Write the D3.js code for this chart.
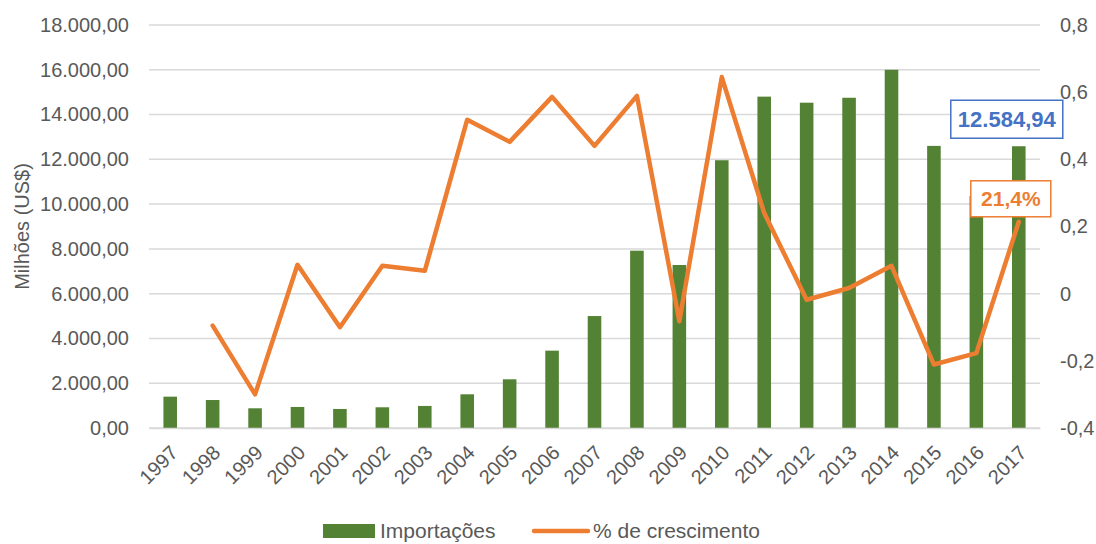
<!DOCTYPE html>
<html>
<head>
<meta charset="utf-8">
<script src="https://cdn.jsdelivr.net/npm/d3@7"></script>
<style>
  body { margin: 0; background: #fff; }
  svg text { font-family: "Liberation Sans", Arial, sans-serif; fill: #595959; }
</style>
</head>
<body>
<div id="chart"></div>
<script>
const years = ['1997', '1998', '1999', '2000', '2001', '2002', '2003', '2004', '2005', '2006', '2007',
  '2008', '2009', '2010', '2011', '2012', '2013', '2014', '2015', '2016', '2017'];
const imports = [1400, 1250, 880, 940, 850, 925, 985, 1505, 2175, 3455, 5000,
  7920, 7280, 11960, 14800, 14530, 14750, 16000, 12600, 10365, 12584.94];
// growth starts in 1998
const growth = [-0.095, -0.30, 0.086, -0.10, 0.083, 0.068, 0.518, 0.452, 0.586, 0.44,
  0.589, -0.082, 0.645, 0.24, -0.018, 0.017, 0.083, -0.211, -0.177, 0.214];
const leftTicks = d3.range(0, 18001, 2000);
const rightTicks = [-0.4, -0.2, 0, 0.2, 0.4, 0.6, 0.8];
const seriesNames = ['Importações', '% de crescimento'];
const lastImportLabel = '12.584,94';
const lastGrowthLabel = '21,4%';

const width = 1096;
const height = 544;
const plotLeft = 149, plotRight = 1040, plotTop = 25, plotBottom = 428;

const green = '#548235';
const orange = '#ED7D31';
const blue = '#4472C4';

let svg = d3.select('#chart')
  .append('svg')
  .attr('width', width)
  .attr('height', height);

let x = d3.scaleBand().domain(years).range([plotLeft, plotRight]).paddingInner(0.68).paddingOuter(0.34);
let yL = d3.scaleLinear().domain([0, 18000]).range([plotBottom, plotTop]);
let yR = d3.scaleLinear().domain([-0.4, 0.8]).range([plotBottom, plotTop]);

let fmtL = v => d3.format(',.2f')(v).replace(/,/g, 'X').replace('.', ',').replace(/X/g, '.');
let fmtR = v => v === 0 ? '0' : String(d3.format('.1f')(v)).replace('.', ',').replace('−', '-');

// Gridlines
svg.append('g')
  .selectAll('line')
  .data(leftTicks)
  .enter()
  .append('line')
    .attr('x1', plotLeft)
    .attr('x2', plotRight)
    .attr('y1', d => yL(d))
    .attr('y2', d => yL(d))
    .attr('stroke', '#d9d9d9')
    .attr('stroke-width', 1.5);

// Left axis
let yAxisL = d3.axisLeft(yL)
  .tickValues(leftTicks)
  .tickSize(0)
  .tickPadding(20)
  .tickFormat(fmtL);

svg.append('g')
  .attr('transform', `translate(${plotLeft},0)`)
  .call(yAxisL)
  .call(g => g.select('.domain').remove())
  .selectAll('text')
    .style('font-size', '20px')
    .attr('fill', '#595959');

// Right axis
let yAxisR = d3.axisRight(yR)
  .tickValues(rightTicks)
  .tickSize(0)
  .tickPadding(20)
  .tickFormat(fmtR);

svg.append('g')
  .attr('transform', `translate(${plotRight},0)`)
  .call(yAxisR)
  .call(g => g.select('.domain').remove())
  .selectAll('text')
    .style('font-size', '20px')
    .attr('fill', '#595959');

// Axis title
svg.append('text')
  .attr('transform', `translate(29,${(plotTop + plotBottom) / 2}) rotate(-90)`)
  .attr('text-anchor', 'middle')
  .style('font-size', '20px')
  .text('Milhões (US$)');

// Bars
svg.append('g')
  .selectAll('rect')
  .data(imports)
  .enter()
  .append('rect')
    .attr('x', (d, i) => x(years[i]))
    .attr('y', d => yL(d))
    .attr('width', x.bandwidth())
    .attr('height', d => plotBottom - yL(d))
    .attr('fill', green);

// Bottom axis
let xAxis = d3.axisBottom(x).tickSize(0).tickPadding(0);
svg.append('g')
  .attr('transform', `translate(0,${plotBottom})`)
  .call(xAxis)
  .call(g => g.select('.domain')
    .attr('stroke', '#d9d9d9')
    .attr('stroke-width', 1.5))
  .selectAll('text')
    .style('font-size', '20px')
    .attr('fill', '#595959')
    .attr('text-anchor', 'end')
    .attr('dy', 0)
    .attr('transform', 'translate(9,26) rotate(-45)');

// Growth line
let line = d3.line()
  .x((d, i) => x(years[i + 1]) + x.bandwidth() / 2)
  .y(d => yR(d));

svg.append('path')
  .datum(growth)
  .attr('d', line)
  .attr('fill', 'none')
  .attr('stroke', orange)
  .attr('stroke-width', 4.5)
  .attr('stroke-linejoin', 'round')
  .attr('stroke-linecap', 'round');

// Data labels for 2017
let lastX = x(years[years.length - 1]) + x.bandwidth() / 2;

let blueLabel = svg.append('g')
  .attr('transform', `translate(${lastX - 12},${yL(imports[imports.length - 1]) - 27})`);
blueLabel.append('rect')
  .attr('x', -56).attr('y', -19)
  .attr('width', 112).attr('height', 38)
  .attr('fill', '#fff')
  .attr('stroke', blue)
  .attr('stroke-width', 1.5);
blueLabel.append('text')
  .attr('text-anchor', 'middle')
  .attr('dy', '0.36em')
  .style('font-size', '22px')
  .style('font-weight', 'bold')
  .style('fill', blue)
  .text(lastImportLabel);

let orangeLabel = svg.append('g')
  .attr('transform', `translate(${lastX - 8},${yR(growth[growth.length - 1]) - 23})`);
orangeLabel.append('rect')
  .attr('x', -40).attr('y', -18)
  .attr('width', 80).attr('height', 36)
  .attr('fill', '#fff')
  .attr('stroke', orange)
  .attr('stroke-width', 1.5);
orangeLabel.append('text')
  .attr('text-anchor', 'middle')
  .attr('dy', '0.36em')
  .style('font-size', '21px')
  .style('font-weight', 'bold')
  .style('fill', orange)
  .text(lastGrowthLabel);

// Legend
let legend = svg.append('g').attr('transform', 'translate(323,531)');
legend.append('rect')
  .attr('x', 0).attr('y', -7)
  .attr('width', 52).attr('height', 14)
  .attr('fill', green);
legend.append('text')
  .attr('x', 57).attr('y', 7)
  .style('font-size', '21px')
  .text(seriesNames[0]);
legend.append('line')
  .attr('x1', 211).attr('x2', 265)
  .attr('y1', 0).attr('y2', 0)
  .attr('stroke', orange)
  .attr('stroke-width', 4.5)
  .attr('stroke-linecap', 'round');
legend.append('text')
  .attr('x', 270).attr('y', 7)
  .style('font-size', '21px')
  .text(seriesNames[1]);
</script>
</body>
</html>
